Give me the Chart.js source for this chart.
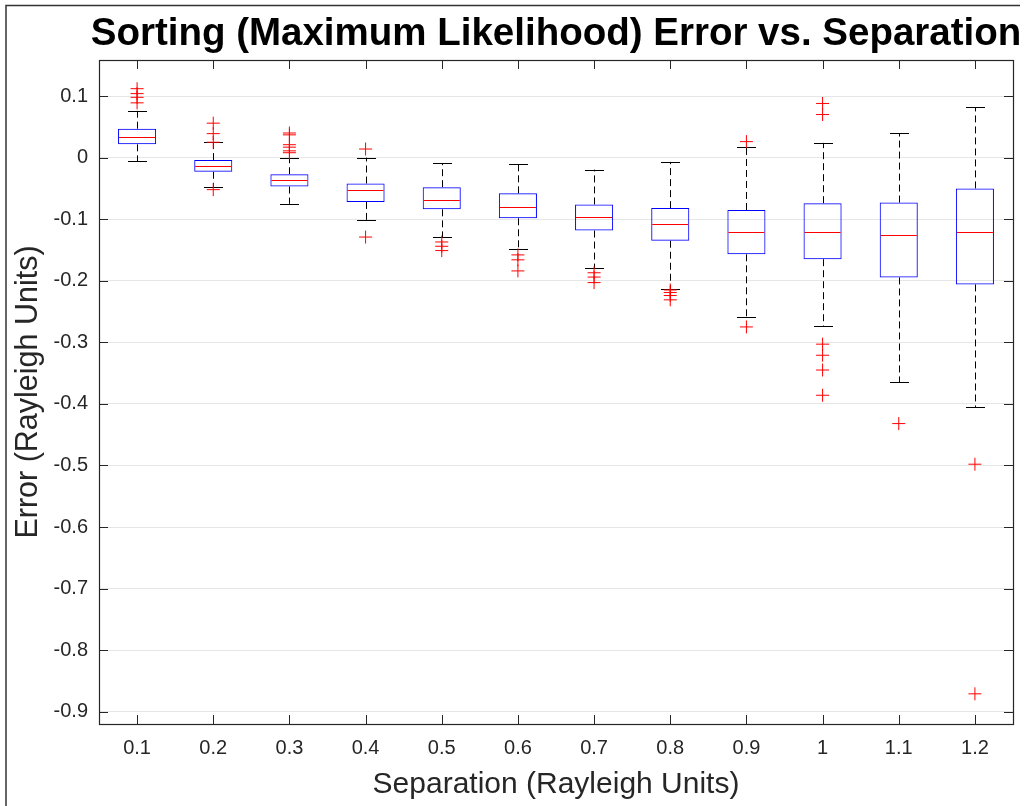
<!DOCTYPE html>
<html>
<head>
    <title>Sorting (Maximum Likelihood) Error vs. Separation</title>
    <script src="https://cdn.jsdelivr.net/npm/chart.js"></script>
    <style>
        html, body {
            margin: 0;
            padding: 0;
            background-color: #fff;
        }

        #wrap {
            position: relative;
            width: 1031px;
            height: 806px;
        }
    </style>
</head>
<body>
    <div id="wrap">
        <canvas id="errorChart"></canvas>
    </div>

    <script>
        // separation values (x categories)
        const separations = ['0.1', '0.2', '0.3', '0.4', '0.5', '0.6', '0.7', '0.8', '0.9', '1', '1.1', '1.2'];

        // box plot statistics
        const q1 = [0.0216, -0.023, -0.047, -0.072, -0.084, -0.0985, -0.1185, -0.135, -0.157, -0.165, -0.1946, -0.206];
        const q3 = [0.047, -0.004, -0.027, -0.042, -0.048, -0.058, -0.076, -0.082, -0.085, -0.074, -0.073, -0.050];
        const medians = [0.034, -0.014, -0.037, -0.052, -0.069, -0.080, -0.097, -0.107, -0.121, -0.120, -0.125, -0.121];
        const whiskerLow = [-0.006, -0.048, -0.075, -0.101, -0.129, -0.149, -0.180, -0.213, -0.2585, -0.273, -0.365, -0.405];
        const whiskerHigh = [0.076, 0.025, 0.0, 0.0, -0.009, -0.011, -0.0195, -0.007, 0.0173, 0.024, 0.040, 0.082];
        const outliers = [
            [0.112, 0.104, 0.098, 0.089],
            [0.056, 0.039, 0.025, -0.052],
            [0.040, 0.037, 0.021, 0.017, 0.011, 0.008],
            [0.014, -0.129],
            [-0.137, -0.144, -0.151],
            [-0.158, -0.166, -0.184],
            [-0.187, -0.194, -0.203],
            [-0.215, -0.219, -0.224, -0.231],
            [0.026, -0.275],
            [0.088, 0.070, -0.303, -0.321, -0.345, -0.386],
            [-0.432],
            [-0.498, -0.871]
        ];

        // axis ticks
        const yTicks = [-0.9, -0.8, -0.7, -0.6, -0.5, -0.4, -0.3, -0.2, -0.1, 0, 0.1];
        const yMin = -0.92;
        const yMax = 0.1586;

        const titleText = 'Sorting (Maximum Likelihood) Error vs. Separation';
        const axisColor = '#262626';
        const fontFamily = "'Liberation Sans', Arial, Helvetica, sans-serif";

        // title over the axes, whiskers, caps, medians, frame and inward tick marks
        const boxExtras = {
            id: 'boxExtras',
            beforeDraw(chart) {
                const ctx = chart.ctx;
                const area = chart.chartArea;
                ctx.save();
                // outer figure edge
                ctx.strokeStyle = '#333';
                ctx.lineWidth = 1.5;
                ctx.beginPath();
                ctx.moveTo(6, chart.height);
                ctx.lineTo(6, 5.5);
                ctx.lineTo(1020, 5.5);
                ctx.stroke();
                // title centred on the axes
                ctx.fillStyle = '#000';
                ctx.font = 'bold 38.5px ' + fontFamily;
                ctx.textAlign = 'center';
                ctx.textBaseline = 'alphabetic';
                ctx.fillText(titleText, (area.left + area.right) / 2, 45);
                ctx.restore();
            },
            beforeDatasetsDraw(chart) {
                const ctx = chart.ctx;
                const x = chart.scales.x;
                const y = chart.scales.y;
                const capHalf = (x.getPixelForValue(1.125) - x.getPixelForValue(1));
                ctx.save();
                ctx.strokeStyle = '#000';
                ctx.lineWidth = 1;
                for (let i = 0; i < separations.length; i++) {
                    const px = Math.round(x.getPixelForValue(i + 1)) + 0.5;
                    // dashed whiskers
                    ctx.setLineDash([7, 4]);
                    ctx.beginPath();
                    ctx.moveTo(px, y.getPixelForValue(q3[i]));
                    ctx.lineTo(px, y.getPixelForValue(whiskerHigh[i]));
                    ctx.moveTo(px, y.getPixelForValue(q1[i]));
                    ctx.lineTo(px, y.getPixelForValue(whiskerLow[i]));
                    ctx.stroke();
                    // caps
                    ctx.setLineDash([]);
                    ctx.beginPath();
                    const hi = Math.round(y.getPixelForValue(whiskerHigh[i])) + 0.5;
                    const lo = Math.round(y.getPixelForValue(whiskerLow[i])) + 0.5;
                    ctx.moveTo(px - capHalf, hi);
                    ctx.lineTo(px + capHalf, hi);
                    ctx.moveTo(px - capHalf, lo);
                    ctx.lineTo(px + capHalf, lo);
                    ctx.stroke();
                }
                ctx.restore();
            },
            afterDatasetsDraw(chart) {
                const ctx = chart.ctx;
                const x = chart.scales.x;
                const y = chart.scales.y;
                const boxHalf = (x.getPixelForValue(1.25) - x.getPixelForValue(1));
                const area = chart.chartArea;
                ctx.save();
                // medians
                ctx.strokeStyle = '#ff0000';
                ctx.lineWidth = 1;
                for (let i = 0; i < separations.length; i++) {
                    const px = x.getPixelForValue(i + 1);
                    const py = Math.round(y.getPixelForValue(medians[i])) + 0.5;
                    ctx.beginPath();
                    ctx.moveTo(px - boxHalf + 1, py);
                    ctx.lineTo(px + boxHalf - 1, py);
                    ctx.stroke();
                }
                // axes frame
                ctx.strokeStyle = axisColor;
                ctx.lineWidth = 1.2;
                ctx.strokeRect(Math.round(area.left) + 0.5, Math.round(area.top) + 0.5,
                    Math.round(area.right - area.left), Math.round(area.bottom - area.top));
                // inward ticks
                const tl = 9;
                ctx.lineWidth = 1;
                ctx.beginPath();
                x.ticks.forEach(t => {
                    const px = Math.round(x.getPixelForValue(t.value)) + 0.5;
                    ctx.moveTo(px, area.bottom);
                    ctx.lineTo(px, area.bottom - tl);
                    ctx.moveTo(px, area.top);
                    ctx.lineTo(px, area.top + tl);
                });
                y.ticks.forEach(t => {
                    const py = Math.round(y.getPixelForValue(t.value)) + 0.5;
                    ctx.moveTo(area.left, py);
                    ctx.lineTo(area.left + tl, py);
                    ctx.moveTo(area.right, py);
                    ctx.lineTo(area.right - tl, py);
                });
                ctx.stroke();
                ctx.restore();
            }
        };

        const outlierPoints = [];
        outliers.forEach((list, i) => {
            list.forEach(v => outlierPoints.push({ x: i + 1, y: v }));
        });

        const ctxErr = document.getElementById('errorChart').getContext('2d');
        const errorChart = new Chart(ctxErr, {
            type: 'scatter',
            data: {
                datasets: [{
                    type: 'bar',
                    label: 'IQR',
                    data: separations.map((s, i) => ({ x: i + 1, y: [q1[i], q3[i]] })),
                    backgroundColor: 'rgba(0,0,0,0)',
                    borderColor: '#0000ff',
                    borderWidth: 1,
                    borderSkipped: false,
                    barPercentage: 0.5,
                    categoryPercentage: 1.0
                }, {
                    type: 'scatter',
                    label: 'Outliers',
                    data: outlierPoints,
                    pointStyle: 'cross',
                    pointRadius: 6.5,
                    pointBorderColor: '#ff0000',
                    pointBackgroundColor: '#ff0000',
                    pointBorderWidth: 1
                }]
            },
            options: {
                responsive: true,
                maintainAspectRatio: false,
                animation: false,
                events: [],
                layout: {
                    // top leaves room for the title drawn by the plugin
                    padding: { left: 0, right: 18, top: 60, bottom: 0 }
                },
                plugins: {
                    legend: { display: false },
                    tooltip: { enabled: false },
                    title: { display: false }
                },
                scales: {
                    x: {
                        type: 'linear',
                        min: 0.5,
                        max: 12.5,
                        offset: false,
                        afterFit: (scale) => { scale.height = 82; },
                        afterBuildTicks: (scale) => {
                            scale.ticks = separations.map((s, i) => ({ value: i + 1 }));
                        },
                        ticks: {
                            color: axisColor,
                            font: { family: fontFamily, size: 20 },
                            padding: 12,
                            maxRotation: 0,
                            callback: (v) => separations[Math.round(v) - 1]
                        },
                        grid: { display: false, offset: false, drawTicks: false },
                        border: { display: false },
                        title: {
                            display: true,
                            text: 'Separation (Rayleigh Units)',
                            color: axisColor,
                            font: { family: fontFamily, size: 30 },
                            padding: { top: 0, bottom: 3 }
                        }
                    },
                    y: {
                        type: 'linear',
                        min: yMin,
                        max: yMax,
                        afterFit: (scale) => { scale.width = 99; },
                        afterBuildTicks: (scale) => {
                            scale.ticks = yTicks.map(v => ({ value: v }));
                        },
                        ticks: {
                            color: axisColor,
                            font: { family: fontFamily, size: 20 },
                            padding: 11,
                            callback: (v) => String(Math.round(v * 10) / 10)
                        },
                        grid: { color: '#e6e6e6', lineWidth: 1, drawTicks: false },
                        border: { display: false },
                        title: {
                            display: true,
                            text: 'Error (Rayleigh Units)',
                            color: axisColor,
                            font: { family: fontFamily, size: 30.5 },
                            padding: { top: 10, bottom: 0 }
                        }
                    }
                }
            },
            plugins: [boxExtras]
        });
    </script>
</body>
</html>
